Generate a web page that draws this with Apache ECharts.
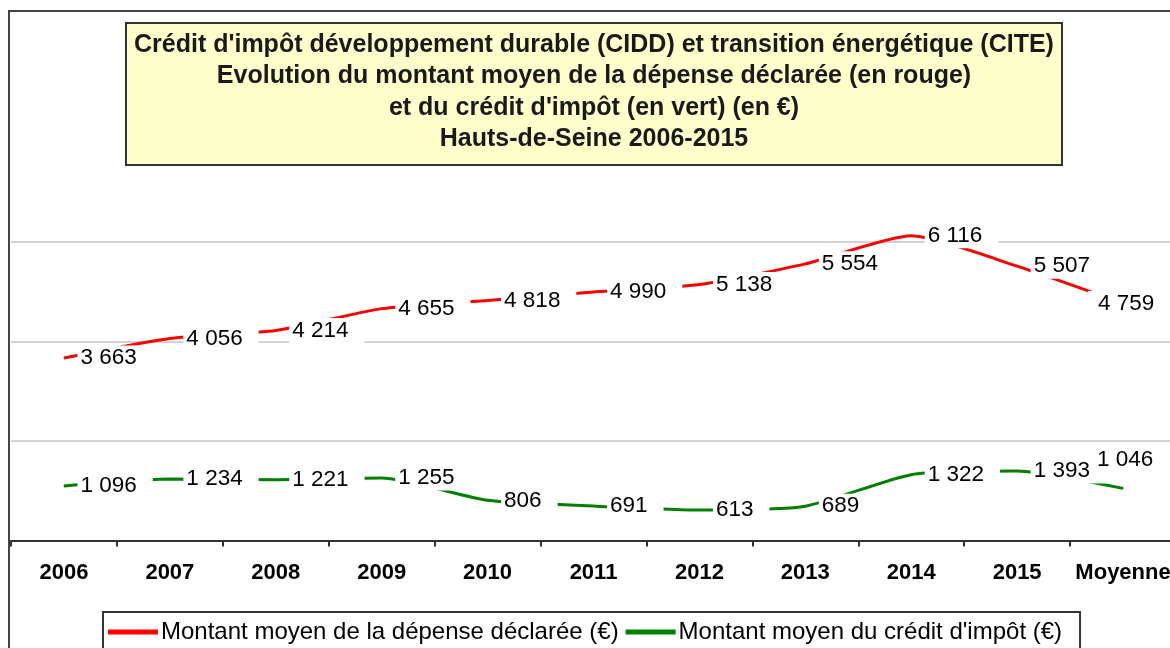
<!DOCTYPE html>
<html>
<head>
<meta charset="utf-8">
<script src="https://cdn.jsdelivr.net/npm/echarts@6/dist/echarts.min.js"></script>
<style>
  html, body { margin: 0; padding: 0; background: #fff; overflow: hidden; }
  #chart { width: 1180px; height: 648px; }
</style>
</head>
<body>
<div id="chart"></div>
<script>
// categories and values
const years = ['2006', '2007', '2008', '2009', '2010', '2011', '2012', '2013', '2014', '2015', 'Moyenne']
const depense = [3663, 4056, 4214, 4655, 4818, 4990, 5138, 5554, 6116, 5507, 4759]
const credit = [1096, 1234, 1221, 1255, 806, 691, 613, 689, 1322, 1393, 1046]
const nameDepense = 'Montant moyen de la dépense déclarée (€)'
const nameCredit = 'Montant moyen du crédit d\'impôt (€)'
const titleLines = [
  'Crédit d\'impôt développement durable (CIDD) et transition énergétique (CITE)',
  'Evolution du montant moyen de la dépense déclarée (en rouge)',
  'et du crédit d\'impôt (en vert) (en €)',
  'Hauts-de-Seine 2006-2015'
]

const FONT = 'Arial, "Liberation Sans", sans-serif'

// 3663 -> "3 663"
function fmt(v) {
  return String(v).replace(/\B(?=(\d{3})+(?!\d))/g, ' ')
}

const baseLabel = {
  show: true,
  position: 'right',
  distance: 13,
  color: '#000',
  fontFamily: FONT,
  fontSize: 22.5,
  backgroundColor: '#fff',
  padding: [1, 16, 1, 3],
  formatter: p => fmt(p.value)
}

// la "Moyenne" a un placement particulier
function buildData(values, lastLabel) {
  return values.map((v, i) => i === values.length - 1 ? { value: v, label: lastLabel } : v)
}

const chart = echarts.init(document.getElementById('chart'))
chart.setOption({
  animation: false,
  grid: {
    left: 11,
    right: 4,
    top: 142,
    bottom: 107.5,
    containLabel: false
  },
  legend: {
    left: 103,
    top: 612,
    padding: [8, 18, 12, 5],
    itemGap: 7,
    itemWidth: 50,
    itemHeight: 5,
    icon: 'rect',
    backgroundColor: '#fff',
    borderColor: '#333',
    borderWidth: 2,
    borderRadius: 0,
    textStyle: {
      fontFamily: FONT,
      fontSize: 24,
      color: '#000',
      padding: [0, 0, 0, -2]
    },
    data: [nameDepense, nameCredit]
  },
  xAxis: {
    type: 'category',
    data: years,
    boundaryGap: true,
    axisLine: { show: true, lineStyle: { color: '#333', width: 2 } },
    axisTick: { show: true, alignWithLabel: false, length: 6, lineStyle: { color: '#333', width: 2 } },
    axisLabel: {
      interval: 0,
      margin: 21,
      color: '#000',
      fontFamily: FONT,
      fontWeight: 'bold',
      fontSize: 22
    },
    splitLine: { show: false }
  },
  yAxis: {
    type: 'value',
    min: 0,
    max: 8000,
    interval: 2000,
    axisLine: { show: false },
    axisTick: { show: false },
    axisLabel: { show: false },
    splitLine: {
      show: true,
      lineStyle: {
        color: ['#c4c4c4', '#c4c4c4', '#c4c4c4', '#c4c4c4', 'rgba(0,0,0,0)'],
        width: 1.5
      }
    }
  },
  graphic: [
    {
      // cadre extérieur
      type: 'rect',
      shape: { x: 9, y: 11, width: 1300, height: 800 },
      style: { fill: 'none', stroke: '#444', lineWidth: 2 },
      z: 100
    },
    {
      type: 'rect',
      shape: { x: 126, y: 23, width: 936, height: 142 },
      style: { fill: '#ffffcc', stroke: '#333', lineWidth: 2 },
      z: 101
    },
    {
      type: 'text',
      x: 594,
      y: 29,
      style: {
        text: titleLines.join('\n'),
        align: 'center',
        verticalAlign: 'top',
        font: 'bold 25px ' + FONT,
        lineHeight: 31.5,
        fill: '#1a1a1a'
      },
      z: 102
    }
  ],
  series: [
    {
      name: nameDepense,
      type: 'line',
      smooth: 0.2,
      symbol: 'circle',
      symbolSize: 1,
      lineStyle: { color: '#ff0000', width: 3 },
      itemStyle: { color: '#ff0000' },
      label: baseLabel,
      data: buildData(depense, { position: 'inside', padding: [1, 4, 1, 10] })
    },
    {
      name: nameCredit,
      type: 'line',
      smooth: 0.2,
      symbol: 'circle',
      symbolSize: 1,
      lineStyle: { color: '#008000', width: 3 },
      itemStyle: { color: '#008000' },
      label: baseLabel,
      data: buildData(credit, { position: 'top', distance: 16, padding: [1, 2, 1, 6] })
    }
  ]
})
</script>
</body>
</html>
